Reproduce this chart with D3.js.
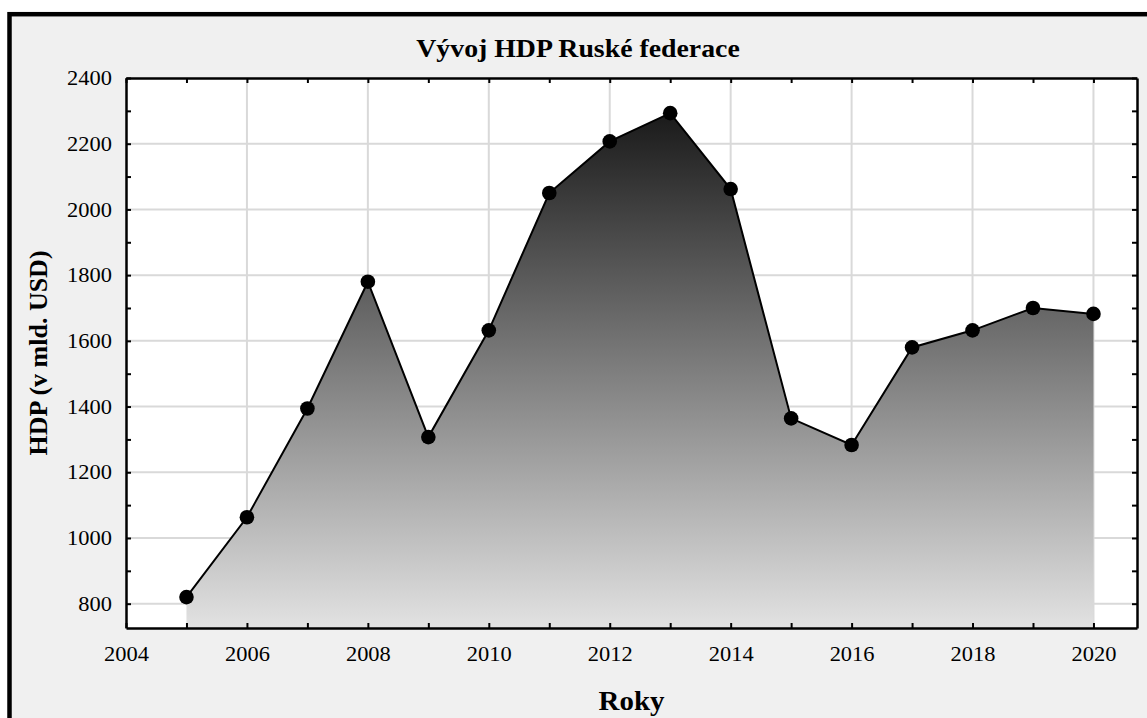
<!DOCTYPE html>
<html>

<head>
    <meta charset="utf-8" />
    <title>Vývoj HDP Ruské federace</title>
    <style>
        body { margin: 0; background: #ffffff; }
        svg { display: block; font-family: "Liberation Serif", "Times New Roman", serif; }
        .axis path, .axis line { stroke: #000; }
        .axis text { fill: #000; font-size: 21px; font-family: "Liberation Serif", serif; }
    </style>
</head>

<body>
    <svg width=1147 height=718></svg>
</body>

<script src="https://cdn.jsdelivr.net/npm/d3@7"></script>
<script>
    // data
    var roky = [2005, 2006, 2007, 2008, 2009, 2010, 2011, 2012, 2013, 2014, 2015, 2016, 2017, 2018, 2019, 2020];
    var hdp = [820, 1063, 1394, 1780, 1307, 1632, 2050, 2207, 2293, 2062, 1364, 1283, 1580, 1632, 1700, 1682];
    var xTicks = d3.range(2004, 2021, 1);
    var yTicks = d3.range(800, 2401, 100);

    var data = roky.map(function (r, i) {
        return { rok: r, hdp: hdp[i] };
    });

    // plot box (window.top is reserved, so no "top" here)
    var plotL = 126, plotR = 1137, plotT = 78, plotB = 628;
    var stretch = 'scale(1.07,1)';

    var svg = d3.select('svg');

    // outer frame
    svg.append('rect')
        .attr('x', 9.5).attr('y', 14.2)
        .attr('width', 1160).attr('height', 720)
        .attr('fill', '#f0f0f0')
        .attr('stroke', '#000')
        .attr('stroke-width', 4.5);

    svg.append('rect')
        .attr('x', plotL).attr('y', plotT)
        .attr('width', plotR - plotL).attr('height', plotB - plotT)
        .attr('fill', '#fff');

    var x = d3.scaleLinear()
        .domain([2004, 2020.72])
        .range([plotL, plotR]);

    var y = d3.scaleLinear()
        .domain([726, 2400])
        .range([plotB, plotT]);

    // grid
    var grid = svg.append('g');
    grid.selectAll('.gx')
        .data(d3.range(2006, 2021, 2))
        .enter()
        .append('line')
        .attr('x1', function (d) { return x(d); })
        .attr('x2', function (d) { return x(d); })
        .attr('y1', plotT).attr('y2', plotB)
        .attr('stroke', '#d9d9d9').attr('stroke-width', 2);
    grid.selectAll('.gy')
        .data(d3.range(800, 2400, 200))
        .enter()
        .append('line')
        .attr('y1', function (d) { return y(d); })
        .attr('y2', function (d) { return y(d); })
        .attr('x1', plotL).attr('x2', plotR)
        .attr('stroke', '#d9d9d9').attr('stroke-width', 2);

    // gradient
    var grad = svg.append('defs')
        .append('linearGradient')
        .attr('id', 'fill')
        .attr('gradientUnits', 'userSpaceOnUse')
        .attr('x1', 0).attr('x2', 0)
        .attr('y1', y(d3.max(hdp))).attr('y2', plotB);
    grad.append('stop').attr('offset', 0).attr('stop-color', '#1a1a1a');
    grad.append('stop').attr('offset', 1).attr('stop-color', '#e2e2e2');

    var area = d3.area()
        .x(function (d) { return x(d.rok); })
        .y0(plotB)
        .y1(function (d) { return y(d.hdp); });

    var line = d3.line()
        .x(function (d) { return x(d.rok); })
        .y(function (d) { return y(d.hdp); });

    svg.append('path')
        .datum(data)
        .attr('d', area)
        .attr('fill', 'url(#fill)');

    svg.append('path')
        .datum(data)
        .attr('d', line)
        .attr('fill', 'none')
        .attr('stroke', '#000')
        .attr('stroke-width', 2);

    svg.selectAll('circle')
        .data(data)
        .enter()
        .append('circle')
        .attr('cx', function (d) { return x(d.rok); })
        .attr('cy', function (d) { return y(d.hdp); })
        .attr('r', 7.3)
        .attr('fill', '#000');

    // axes, ticks inside
    var xAxis = svg.append('g')
        .attr('class', 'axis')
        .attr('transform', 'translate(0,' + plotB + ')')
        .call(d3.axisBottom(x)
            .tickValues(xTicks)
            .tickSize(-5)
            .tickSizeOuter(0)
            .tickPadding(18)
            .tickFormat(function (d) { return d % 2 === 0 ? d : ''; }));
    xAxis.selectAll('text').attr('transform', stretch);

    svg.append('g')
        .attr('class', 'axis')
        .attr('transform', 'translate(0,' + plotT + ')')
        .call(d3.axisTop(x).tickValues(xTicks).tickSize(-5).tickSizeOuter(0).tickFormat(''));

    var yAxis = svg.append('g')
        .attr('class', 'axis')
        .attr('transform', 'translate(' + plotL + ',0)')
        .call(d3.axisLeft(y)
            .tickValues(yTicks)
            .tickSize(-5)
            .tickSizeOuter(0)
            .tickFormat(function (d) { return d % 200 === 0 ? d : ''; }));
    yAxis.selectAll('text')
        .attr('x', -14 / 1.07)
        .attr('transform', stretch);

    svg.append('g')
        .attr('class', 'axis')
        .attr('transform', 'translate(' + plotR + ',0)')
        .call(d3.axisRight(y).tickValues(yTicks).tickSize(-5).tickSizeOuter(0).tickFormat(''));

    svg.selectAll('.axis .domain').attr('stroke-width', 2.5);
    svg.selectAll('.axis .tick line').attr('stroke-width', 2);

    // titles
    svg.append('text')
        .attr('transform', 'translate(578,57) ' + stretch)
        .attr('text-anchor', 'middle')
        .attr('font-size', 26)
        .attr('font-weight', 'bold')
        .text('Vývoj HDP Ruské federace');

    svg.append('text')
        .attr('transform', 'translate(' + (plotL + plotR) / 2 + ',710) ' + stretch)
        .attr('text-anchor', 'middle')
        .attr('font-size', 27)
        .attr('font-weight', 'bold')
        .text('Roky');

    svg.append('text')
        .attr('transform', 'translate(47,' + (plotT + plotB) / 2 + ') rotate(-90)')
        .attr('text-anchor', 'middle')
        .attr('font-size', 26)
        .attr('font-weight', 'bold')
        .text('HDP (v mld. USD)');
</script>

</html>
